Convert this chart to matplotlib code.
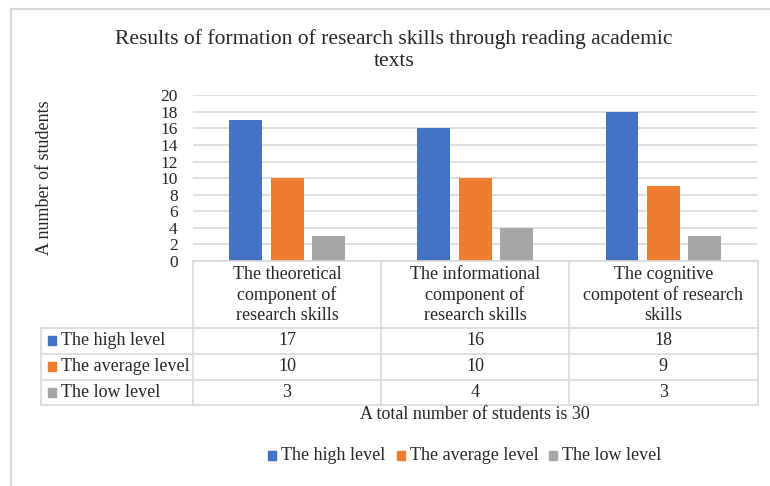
import matplotlib
matplotlib.use("Agg")
import matplotlib.pyplot as plt
from matplotlib.patches import Rectangle
from matplotlib.lines import Line2D

categories = ["The theoretical\ncomponent of\nresearch skills",
              "The informational\ncomponent of\nresearch skills",
              "The cognitive\ncompotent of research\nskills"]
series_names = ["The high level", "The average level", "The low level"]
high = [17, 16, 18]
average = [10, 10, 9]
low = [3, 4, 3]
series_values = [high, average, low]
colors = ["#4472C4", "#ED7D31", "#A5A5A5"]
yticks = [0, 2, 4, 6, 8, 10, 12, 14, 16, 18, 20]
title = "Results of formation of research skills through reading academic\ntexts"
ylabel = "A number of students"
xlabel = "A total number of students is 30"

W, H = 770, 486
plt.rcParams['font.family'] = ['Liberation Serif', 'DejaVu Serif']
fig = plt.figure(figsize=(W / 100, H / 100), dpi=100)

def fx(x):
    return x / W

def fy(y):
    return 1 - y / H

TXT = "#262626"
GRID = "#D9D9D9"
FS = 13

# plot area
x0, x1, ytop, ybot = 193, 757.5, 95.3, 261
ax = fig.add_axes([fx(x0), fy(ybot), fx(x1) - fx(x0), fy(ytop) - fy(ybot)])
ax.set_xlim(-0.5, len(categories) - 0.5)
ax.set_ylim(0, 20)
ax.set_yticks(yticks)
ax.set_yticklabels([str(t) for t in yticks], fontsize=12.5, color=TXT)
ax.tick_params(axis='y', length=0, pad=11)
ax.set_xticks([])
for s in ax.spines.values():
    s.set_visible(False)
ax.grid(axis='y', color=GRID, linewidth=1.2)
ax.set_axisbelow(True)

bw = 0.175
offs = [-0.22, 0.0, 0.22]
for vals, off, c in zip(series_values, offs, colors):
    ax.bar([i + off for i in range(len(categories))], vals, width=bw, color=c, zorder=3)

# table
colx = [41, 193, 381, 569, 757.5]
rowy = [261, 328, 353.5, 379.5, 405]
lw = 1.2
def hline(y, xa, xb):
    fig.add_artist(Line2D([fx(xa), fx(xb)], [fy(y), fy(y)], color=GRID, lw=lw))
def vline(x, ya, yb):
    fig.add_artist(Line2D([fx(x), fx(x)], [fy(ya), fy(yb)], color=GRID, lw=lw))

hline(rowy[0], colx[1], colx[-1])
for y in rowy[1:]:
    hline(y, colx[0], colx[-1])
vline(colx[0], rowy[1], rowy[-1])
for x in colx[1:]:
    vline(x, rowy[0], rowy[-1])

for i, cat in enumerate(categories):
    cx = (colx[i + 1] + colx[i + 2]) / 2
    fig.text(fx(cx), fy((rowy[0] + rowy[1]) / 2 + 0.5), cat, ha='center', va='center',
             fontsize=FS, color=TXT, linespacing=1.22)
for r, (name, vals, c) in enumerate(zip(series_names, series_values, colors)):
    cy = (rowy[r + 1] + rowy[r + 2]) / 2
    fig.add_artist(Rectangle((fx(48), fy(cy + 4.5)), fx(8), 9 / H, color=c,
                             transform=fig.transFigure))
    fig.text(fx(61), fy(cy), name, ha='left', va='center', fontsize=FS, color=TXT)
    for i, v in enumerate(vals):
        cx = (colx[i + 1] + colx[i + 2]) / 2
        fig.text(fx(cx), fy(cy), str(v), ha='center', va='center', fontsize=FS, color=TXT)

fig.text(fx(475), fy(414), xlabel, ha='center', va='center', fontsize=FS, color=TXT)
fig.text(fx(45), fy(178), ylabel, ha='center', va='center', rotation=90, fontsize=FS, color=TXT)
fig.text(fx(394), fy(50), title, ha='center', va='center', fontsize=15.5, color=TXT,
         linespacing=1.2)

# legend
lx = [268, 397, 549]
for x, name, c in zip(lx, series_names, colors):
    fig.add_artist(Rectangle((fx(x), fy(459.5)), fx(8), 9 / H, color=c,
                             transform=fig.transFigure))
    fig.text(fx(x + 13), fy(455), name, ha='left', va='center', fontsize=FS, color=TXT)

# outer frame (top and left visible)
fig.add_artist(Line2D([fx(11), fx(770)], [fy(9.5), fy(9.5)], color=GRID, lw=1.5))
fig.add_artist(Line2D([fx(11), fx(11)], [fy(9.5), fy(486)], color=GRID, lw=1.5))

fig.savefig("out.png", dpi=100, facecolor="white")
